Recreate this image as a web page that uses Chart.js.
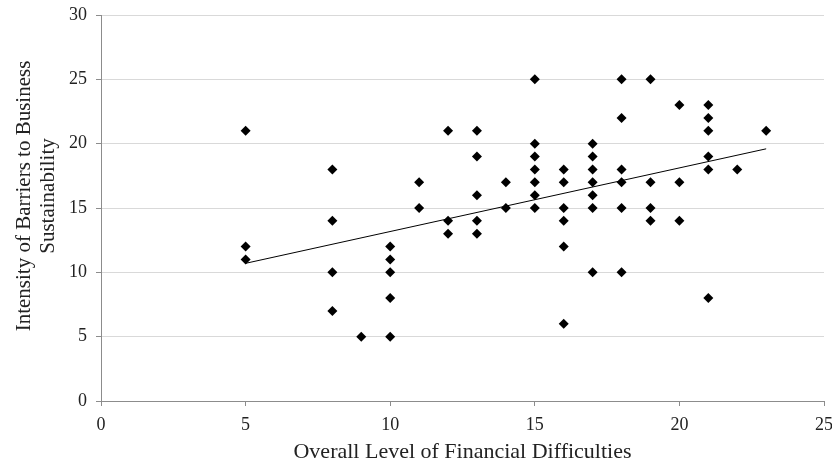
<!DOCTYPE html>
<html>
  <head>
    <meta charset="utf-8" />
    <title>Financial Difficulties vs Barriers to Sustainability</title>
    <script src="https://cdn.jsdelivr.net/npm/chart.js"></script>
    <style>
      html,
      body {
        margin: 0;
        padding: 0;
        background: #fff;
      }
      #wrap {
        width: 832px;
        height: 463px;
      }
    </style>
  </head>
  <body>
    <div id="wrap"><canvas id="scatterChart" width="832" height="463"></canvas></div>

    <script>
      // Overall level of financial difficulties (x), one entry per respondent
      const difficulty = [
        5, 5, 5,
        8, 8, 8, 8,
        9,
        10, 10, 10, 10, 10,
        11, 11,
        12, 12, 12,
        13, 13, 13, 13, 13,
        14, 14,
        15, 15, 15, 15, 15, 15, 15,
        16, 16, 16, 16, 16, 16,
        17, 17, 17, 17, 17, 17, 17,
        18, 18, 18, 18, 18, 18,
        19, 19, 19, 19,
        20, 20, 20,
        21, 21, 21, 21, 21, 21,
        22,
        23,
      ];
      // Intensity of barriers to business sustainability (y), same order
      const barriers = [
        21, 12, 11,
        18, 14, 10, 7,
        5,
        12, 11, 10, 8, 5,
        17, 15,
        21, 14, 13,
        21, 19, 16, 14, 13,
        17, 15,
        25, 20, 19, 18, 17, 16, 15,
        18, 17, 15, 14, 12, 6,
        20, 19, 18, 17, 16, 15, 10,
        25, 22, 18, 17, 15, 10,
        25, 17, 15, 14,
        23, 17, 14,
        23, 22, 21, 19, 18, 8,
        18,
        21,
      ];
      // linear trendline, end points
      const trendX = [5, 23];
      const trendY = [10.7, 19.6];

      const xTicks = [0, 5, 10, 15, 20, 25];
      const yTicks = [0, 5, 10, 15, 20, 25, 30];
      const xTitle = "Overall Level of Financial Difficulties";
      const yTitle = ["Intensity of Barriers to Business", "Sustainability"];

      const serif = "'Liberation Serif', 'Times New Roman', serif";
      const textColor = "#222";
      const axisColor = "#8c8c8c";

      const points = difficulty.map((x, i) => ({ x: x, y: barriers[i] }));
      const trend = trendX.map((x, i) => ({ x: x, y: trendY[i] }));

      // y title drawn by hand so it can sit where the original has it
      const yTitlePlugin = {
        id: "yTitle",
        afterDraw(chart) {
          const ctx = chart.ctx;
          ctx.save();
          ctx.translate(24, 196);
          ctx.rotate(-Math.PI / 2);
          ctx.font = "21px " + serif;
          ctx.fillStyle = textColor;
          ctx.textAlign = "center";
          ctx.textBaseline = "middle";
          yTitle.forEach((line, i) => ctx.fillText(line, 0, i * 24));
          ctx.restore();
        },
      };

      // fixed axis boxes; label overhang is left to layout.padding
      function fixBox(size) {
        return (s) => {
          if (s.isHorizontal()) s.height = size;
          else s.width = size;
          s.paddingTop = 0;
          s.paddingBottom = 0;
          s.paddingLeft = 0;
          s.paddingRight = 0;
        };
      }

      new Chart(document.getElementById("scatterChart"), {
        type: "scatter",
        data: {
          datasets: [
            {
              label: "Respondents",
              data: points,
              pointStyle: "rectRot",
              pointRadius: 5,
              backgroundColor: "#000",
              borderWidth: 0,
            },
            {
              type: "line",
              label: "Linear trend",
              data: trend,
              borderColor: "#000",
              borderWidth: 1,
              pointRadius: 0,
              fill: false,
            },
          ],
        },
        options: {
          responsive: false,
          animation: false,
          layout: { padding: { top: 15, right: 8, left: 0, bottom: 0 } },
          plugins: {
            legend: { display: false },
            tooltip: { enabled: false },
          },
          scales: {
            x: {
              type: "linear",
              position: "bottom",
              min: xTicks[0],
              max: xTicks[xTicks.length - 1],
              afterBuildTicks: (s) => {
                s.ticks = xTicks.map((v) => ({ value: v }));
              },
              afterFit: fixBox(62),
              ticks: {
                color: textColor,
                padding: 8,
                font: { family: serif, size: 18 },
              },
              grid: {
                drawOnChartArea: false,
                drawTicks: true,
                tickLength: 5,
                tickColor: axisColor,
              },
              border: { color: axisColor, width: 1 },
              title: {
                display: true,
                text: xTitle,
                color: textColor,
                padding: 0,
                font: { family: serif, size: 22, lineHeight: 1 },
              },
            },
            y: {
              type: "linear",
              min: yTicks[0],
              max: yTicks[yTicks.length - 1],
              afterBuildTicks: (s) => {
                s.ticks = yTicks.map((v) => ({ value: v }));
              },
              afterFit: fixBox(101),
              ticks: {
                color: textColor,
                padding: 9,
                font: { family: serif, size: 18 },
              },
              grid: {
                color: "#d9d9d9",
                tickLength: 5,
                tickColor: axisColor,
              },
              border: { color: axisColor, width: 1 },
            },
          },
        },
        plugins: [yTitlePlugin],
      });
    </script>
  </body>
</html>
